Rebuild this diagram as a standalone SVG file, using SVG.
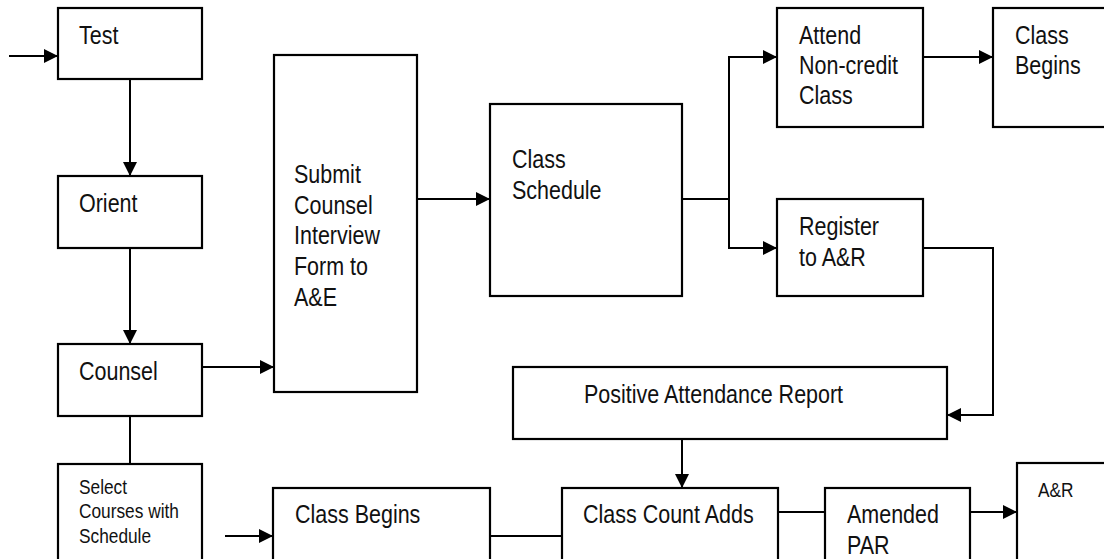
<svg xmlns="http://www.w3.org/2000/svg" width="1104" height="559" viewBox="0 0 1104 559">
  <style>
    .box { fill: #ffffff; stroke: #000000; stroke-width: 2.2; }
    .wire { fill: none; stroke: #000000; stroke-width: 2; }
    .lbl { font-family: "Liberation Sans", Arial, sans-serif; font-size: 21.5px; fill: #111111; }
    .sm { font-family: "Liberation Sans", Arial, sans-serif; font-size: 17.3px; fill: #111111; }
  </style>
  <defs>
    <marker id="arrow" markerUnits="userSpaceOnUse" markerWidth="15" markerHeight="15" refX="14" refY="7" orient="auto">
      <path d="M0,0 L14,7 L0,14 Z" fill="#000000"/>
    </marker>
  </defs>
  <rect width="1104" height="559" fill="#ffffff"/>

  <!-- connectors -->
  <g id="connectors">
    <line class="wire" x1="9" y1="56" x2="58" y2="56" marker-end="url(#arrow)"/>
    <line class="wire" x1="130" y1="79" x2="130" y2="176" marker-end="url(#arrow)"/>
    <line class="wire" x1="130" y1="248" x2="130" y2="344" marker-end="url(#arrow)"/>
    <line class="wire" x1="130" y1="416" x2="130" y2="464"/>
    <line class="wire" x1="202" y1="367" x2="274" y2="367" marker-end="url(#arrow)"/>
    <line class="wire" x1="417" y1="199" x2="490" y2="199" marker-end="url(#arrow)"/>
    <polyline class="wire" points="682,199 729,199 729,57 777,57" marker-end="url(#arrow)"/>
    <polyline class="wire" points="729,199 729,248 777,248" marker-end="url(#arrow)"/>
    <line class="wire" x1="923" y1="57" x2="993" y2="57" marker-end="url(#arrow)"/>
    <polyline class="wire" points="923,248 993,248 993,415 947,415" marker-end="url(#arrow)"/>
    <line class="wire" x1="682" y1="439" x2="682" y2="488" marker-end="url(#arrow)"/>
    <line class="wire" x1="225" y1="536" x2="273" y2="536" marker-end="url(#arrow)"/>
    <line class="wire" x1="490" y1="536" x2="562" y2="536"/>
    <line class="wire" x1="778" y1="512" x2="825" y2="512"/>
    <line class="wire" x1="970" y1="512" x2="1017" y2="512" marker-end="url(#arrow)"/>
  </g>

  <!-- nodes -->
  <g id="test">
    <rect class="box" x="58" y="8" width="144" height="71"/>
    <text class="lbl" transform="translate(79,44) scale(1,1.17)">Test</text>
  </g>
  <g id="orient">
    <rect class="box" x="58" y="176" width="144" height="72"/>
    <text class="lbl" transform="translate(79,212) scale(1,1.17)">Orient</text>
  </g>
  <g id="counsel">
    <rect class="box" x="58" y="344" width="144" height="72"/>
    <text class="lbl" transform="translate(79,380) scale(1,1.17)">Counsel</text>
  </g>
  <g id="select-courses">
    <rect class="box" x="58" y="464" width="144" height="110"/>
    <text class="sm" transform="translate(79,494) scale(1,1.15)">Select</text>
    <text class="sm" transform="translate(79,518) scale(1,1.15)">Courses with</text>
    <text class="sm" transform="translate(79,543) scale(1,1.15)">Schedule</text>
  </g>
  <g id="submit-form">
    <rect class="box" x="274" y="55" width="143" height="337"/>
    <text class="lbl" transform="translate(294,183) scale(1,1.17)">Submit</text>
    <text class="lbl" transform="translate(294,214) scale(1,1.17)">Counsel</text>
    <text class="lbl" transform="translate(294,244) scale(1,1.17)">Interview</text>
    <text class="lbl" transform="translate(294,275) scale(1,1.17)">Form to</text>
    <text class="lbl" transform="translate(294,306) scale(1,1.17)">A&amp;E</text>
  </g>
  <g id="class-schedule">
    <rect class="box" x="490" y="104" width="192" height="192"/>
    <text class="lbl" transform="translate(512,168) scale(1,1.17)">Class</text>
    <text class="lbl" transform="translate(512,199) scale(1,1.17)">Schedule</text>
  </g>
  <g id="attend-noncredit">
    <rect class="box" x="777" y="8" width="146" height="119"/>
    <text class="lbl" transform="translate(799,44) scale(1,1.17)">Attend</text>
    <text class="lbl" transform="translate(799,74) scale(1,1.17)">Non-credit</text>
    <text class="lbl" transform="translate(799,104) scale(1,1.17)">Class</text>
  </g>
  <g id="class-begins-top">
    <rect class="box" x="993" y="8" width="120" height="119"/>
    <text class="lbl" transform="translate(1015,44) scale(1,1.17)">Class</text>
    <text class="lbl" transform="translate(1015,74) scale(1,1.17)">Begins</text>
  </g>
  <g id="register">
    <rect class="box" x="777" y="199" width="146" height="97"/>
    <text class="lbl" transform="translate(799,235) scale(1,1.17)">Register</text>
    <text class="lbl" transform="translate(799,266) scale(1,1.17)">to A&amp;R</text>
  </g>
  <g id="positive-attendance">
    <rect class="box" x="513" y="367" width="434" height="72"/>
    <text class="lbl" transform="translate(584,403) scale(1,1.17)">Positive Attendance Report</text>
  </g>
  <g id="class-begins-bottom">
    <rect class="box" x="273" y="488" width="217" height="90"/>
    <text class="lbl" transform="translate(295,523) scale(1,1.17)">Class Begins</text>
  </g>
  <g id="class-count-adds">
    <rect class="box" x="562" y="488" width="216" height="90"/>
    <text class="lbl" transform="translate(583,523) scale(1,1.17)">Class Count Adds</text>
  </g>
  <g id="amended-par">
    <rect class="box" x="825" y="488" width="145" height="90"/>
    <text class="lbl" transform="translate(847,523) scale(1,1.17)">Amended</text>
    <text class="lbl" transform="translate(847,554) scale(1,1.17)">PAR</text>
  </g>
  <g id="ar">
    <rect class="box" x="1017" y="463" width="100" height="110"/>
    <text class="sm" transform="translate(1038,497) scale(1,1.15)">A&amp;R</text>
  </g>
</svg>
